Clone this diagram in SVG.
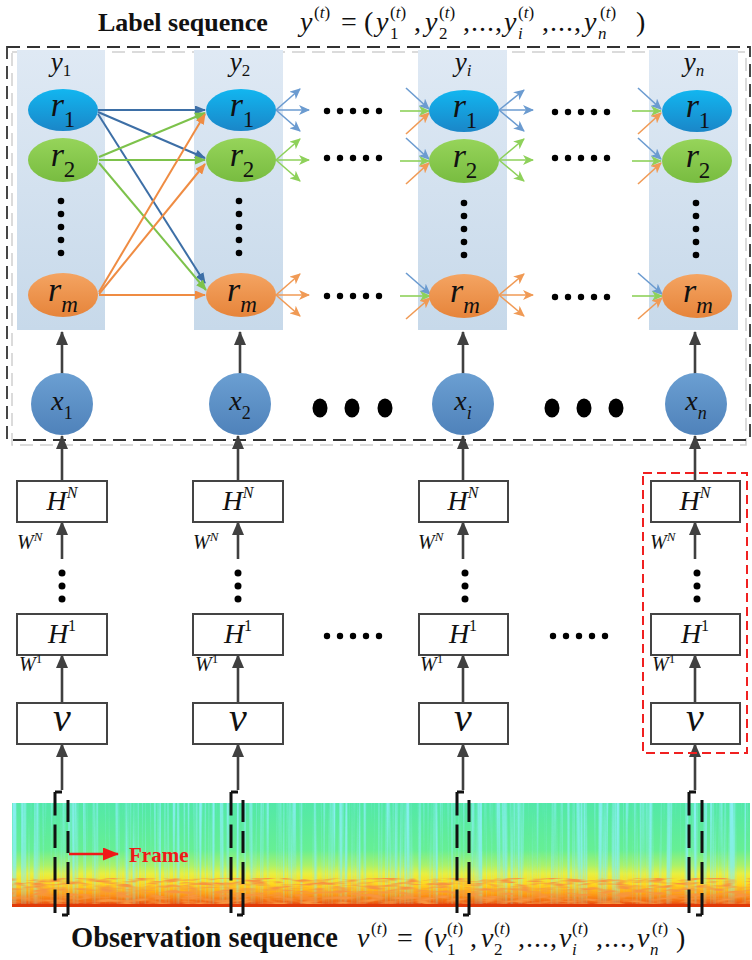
<svg xmlns="http://www.w3.org/2000/svg" width="752" height="960" viewBox="0 0 752 960">
<style>
.ttl{font-family:"Liberation Serif","DejaVu Serif",serif;font-weight:bold;fill:#111}
.m{font-family:"Liberation Serif","DejaVu Serif",serif;font-style:italic;fill:#111}
.n{font-style:normal}
.box{fill:#fff;stroke:#444;stroke-width:2}
.col{fill:url(#colbg)}
.dk{stroke:#404040;stroke-width:2.6;fill:none;marker-end:url(#mDark)}
.bl{stroke:#3d6fa6;stroke-width:2;marker-end:url(#mBlue)}
.gr{stroke:#7dc24b;stroke-width:2;marker-end:url(#mGreen)}
.or{stroke:#ef8c43;stroke-width:2;marker-end:url(#mOrange)}
.fb{stroke:#6b9bd0;stroke-width:1.6;marker-end:url(#fBlue)}
.fg{stroke:#8ed15a;stroke-width:1.6;marker-end:url(#fGreen)}
.fo{stroke:#f09a55;stroke-width:1.6;marker-end:url(#fOrange)}
.dot{fill:#000}
.br{stroke:#111;stroke-width:3;fill:none}
.bl1{stroke-dasharray:23.5 9}
.bl2{stroke-dasharray:22 9}
</style>
<defs>
<linearGradient id="colbg" x1="0" y1="0" x2="0" y2="1"><stop offset="0" stop-color="#dfe9f4"/><stop offset="1" stop-color="#c7d9ea"/></linearGradient>
<linearGradient id="gB" x1="0" y1="0" x2="0" y2="1"><stop offset="0" stop-color="#12b6f0"/><stop offset="1" stop-color="#1a86c8"/></linearGradient>
<linearGradient id="gG" x1="0" y1="0" x2="0" y2="1"><stop offset="0" stop-color="#96d45a"/><stop offset="1" stop-color="#78bc40"/></linearGradient>
<linearGradient id="gO" x1="0" y1="0" x2="0" y2="1"><stop offset="0" stop-color="#f4a462"/><stop offset="1" stop-color="#e6843a"/></linearGradient>
<linearGradient id="gX" x1="0" y1="0" x2="0" y2="1"><stop offset="0" stop-color="#6b9fd2"/><stop offset="1" stop-color="#4f82ba"/></linearGradient>
<linearGradient id="spec" x1="0" y1="0" x2="0" y2="1">
<stop offset="0" stop-color="#52e8a8"/><stop offset="0.45" stop-color="#66ef94"/><stop offset="0.6" stop-color="#aaf26a"/><stop offset="0.68" stop-color="#e8f040"/><stop offset="0.78" stop-color="#ffd81e"/><stop offset="0.87" stop-color="#ffa014"/><stop offset="0.95" stop-color="#f26612"/><stop offset="1" stop-color="#d83008"/></linearGradient>
<linearGradient id="fadeTop" x1="0" y1="0" x2="0" y2="1"><stop offset="0" stop-color="#fff" stop-opacity="1"/><stop offset="0.6" stop-color="#fff" stop-opacity="0.8"/><stop offset="1" stop-color="#fff" stop-opacity="0.2"/></linearGradient>
<mask id="mTop"><rect x="12" y="803" width="738" height="104" fill="url(#fadeTop)"/></mask>
<filter id="streak" x="0" y="0" width="100%" height="100%">
<feTurbulence type="fractalNoise" baseFrequency="0.3 0.004" numOctaves="2" seed="4"/>
<feColorMatrix type="matrix" values="0 0 0 0 0.25  0 0 0 0 0.86  0 0 0 0 0.88  3.2 0 0 0 -1.4"/>
</filter>
<filter id="blot" x="0" y="0" width="100%" height="100%">
<feTurbulence type="fractalNoise" baseFrequency="0.06 0.35" numOctaves="2" seed="9"/>
<feColorMatrix type="matrix" values="0 0 0 0 0.93  0 0 0 0 0.3  0 0 0 0 0.05  3 0 0 0 -1.2"/>
</filter>
<marker id="mDark" viewBox="0 0 14 12" markerWidth="14" markerHeight="12" refX="13" refY="6" orient="auto" markerUnits="userSpaceOnUse"><path d="M0,0 L14,6 L0,12 z" fill="#404040"/></marker>
<marker id="mBlue" viewBox="0 0 11 9" markerWidth="11" markerHeight="9" refX="10" refY="4.5" orient="auto" markerUnits="userSpaceOnUse"><path d="M0,0 L11,4.5 L0,9 z" fill="#3d6fa6"/></marker>
<marker id="mGreen" viewBox="0 0 11 9" markerWidth="11" markerHeight="9" refX="10" refY="4.5" orient="auto" markerUnits="userSpaceOnUse"><path d="M0,0 L11,4.5 L0,9 z" fill="#7dc24b"/></marker>
<marker id="mOrange" viewBox="0 0 11 9" markerWidth="11" markerHeight="9" refX="10" refY="4.5" orient="auto" markerUnits="userSpaceOnUse"><path d="M0,0 L11,4.5 L0,9 z" fill="#ef8c43"/></marker>
<marker id="fBlue" viewBox="0 0 11 10" markerWidth="11" markerHeight="10" refX="10" refY="5" orient="auto" markerUnits="userSpaceOnUse"><path d="M0,0 L11,5 L0,10 L3,5 z" fill="#6b9bd0"/></marker>
<marker id="fGreen" viewBox="0 0 11 10" markerWidth="11" markerHeight="10" refX="10" refY="5" orient="auto" markerUnits="userSpaceOnUse"><path d="M0,0 L11,5 L0,10 L3,5 z" fill="#8ed15a"/></marker>
<marker id="fOrange" viewBox="0 0 11 10" markerWidth="11" markerHeight="10" refX="10" refY="5" orient="auto" markerUnits="userSpaceOnUse"><path d="M0,0 L11,5 L0,10 L3,5 z" fill="#f09a55"/></marker>
<marker id="mRed" viewBox="0 0 16 13" markerWidth="16" markerHeight="13" refX="15" refY="6.5" orient="auto" markerUnits="userSpaceOnUse"><path d="M0,0 L16,6.5 L0,13 z" fill="#f01818"/></marker>
</defs>

<rect width="752" height="960" fill="#fff"/>

<!-- Title -->
<g id="title">
<text class="ttl" x="98" y="31" font-size="26">Label sequence</text>
<text class="m" font-size="28">
<tspan x="300" y="31">y</tspan><tspan x="314" y="18" font-size="17"><tspan class="n">(</tspan>t<tspan class="n">)</tspan></tspan>
<tspan class="n" x="341" y="31">=</tspan><tspan class="n" x="364" y="31">(</tspan>
<tspan x="376" y="31">y</tspan><tspan class="n" x="390" y="39" font-size="17">1</tspan><tspan x="390" y="18" font-size="17"><tspan class="n">(</tspan>t<tspan class="n">)</tspan></tspan>
<tspan class="n" x="414" y="31">,</tspan>
<tspan x="425" y="31">y</tspan><tspan class="n" x="439" y="39" font-size="17">2</tspan><tspan x="439" y="18" font-size="17"><tspan class="n">(</tspan>t<tspan class="n">)</tspan></tspan>
<tspan class="n" x="463" y="31" letter-spacing="1">,...,</tspan>
<tspan x="504" y="31">y</tspan><tspan x="518" y="39" font-size="17">i</tspan><tspan x="518" y="18" font-size="17"><tspan class="n">(</tspan>t<tspan class="n">)</tspan></tspan>
<tspan class="n" x="542" y="31" letter-spacing="1">,...,</tspan>
<tspan x="584" y="31">y</tspan><tspan x="598" y="39" font-size="17">n</tspan><tspan x="600" y="18" font-size="17"><tspan class="n">(</tspan>t<tspan class="n">)</tspan></tspan>
<tspan class="n" x="636" y="31">)</tspan>
</text>
</g>

<!-- outer dashed boxes -->
<g id="crf-frame">
<rect x="12" y="52" width="734" height="393" fill="none" stroke="#cfcfcf" stroke-width="1.5" stroke-dasharray="13 7"/>
<rect x="7" y="47" width="743" height="393" fill="none" stroke="#333" stroke-width="1.8" stroke-dasharray="13 7"/>
</g>

<!-- label columns -->
<g id="col-y1">
<rect class="col" x="17" y="50" width="88" height="280"/>
<text class="m" x="61" y="71" font-size="27" text-anchor="middle">y<tspan class="n" font-size="17" dy="5">1</tspan></text>
</g>
<g id="col-y2">
<rect class="col" x="194" y="50" width="89" height="280"/>
<text class="m" x="240" y="71" font-size="27" text-anchor="middle">y<tspan class="n" font-size="17" dy="5">2</tspan></text>
</g>
<g id="col-yi">
<rect class="col" x="418" y="50" width="89" height="280"/>
<text class="m" x="463" y="71" font-size="27" text-anchor="middle">y<tspan font-size="17" dy="5">i</tspan></text>
</g>
<g id="col-yn">
<rect class="col" x="649" y="50" width="89" height="280"/>
<text class="m" x="694" y="71" font-size="27" text-anchor="middle">y<tspan font-size="17" dy="5">n</tspan></text>
</g>

<!-- spectrogram -->
<g id="spectrogram">
<rect x="12" y="803" width="738" height="104" fill="url(#spec)"/>
<rect x="12" y="803" width="738" height="104" filter="url(#streak)" mask="url(#mTop)"/>
<rect x="12" y="878" width="738" height="29" filter="url(#blot)"/>
<rect x="12" y="904" width="738" height="3" fill="#e03a08"/>
</g>

<!-- connectors -->
<g id="connectors">
<line class="bl" x1="98" y1="110" x2="205" y2="110"/>
<line class="bl" x1="98" y1="112" x2="205" y2="158"/>
<line class="bl" x1="98" y1="114" x2="205" y2="283"/>
<line class="gr" x1="99" y1="157" x2="205" y2="113"/>
<line class="gr" x1="99" y1="160" x2="205" y2="160"/>
<line class="gr" x1="99" y1="163" x2="206" y2="290"/>
<line class="or" x1="99" y1="292" x2="205" y2="114"/>
<line class="or" x1="99" y1="294" x2="205" y2="164"/>
<line class="or" x1="99" y1="295" x2="205" y2="295"/>

<line class="fb" x1="276" y1="110" x2="300" y2="89"/><line class="fb" x1="276" y1="110" x2="309" y2="110"/><line class="fb" x1="276" y1="110" x2="300" y2="131"/>
<line class="fg" x1="276" y1="160" x2="300" y2="139"/><line class="fg" x1="276" y1="160" x2="309" y2="160"/><line class="fg" x1="276" y1="160" x2="300" y2="181"/>
<line class="fo" x1="276" y1="295" x2="300" y2="274"/><line class="fo" x1="276" y1="295" x2="309" y2="295"/><line class="fo" x1="276" y1="295" x2="300" y2="316"/>
<line class="fb" x1="499" y1="110" x2="524" y2="90"/><line class="fb" x1="499" y1="110" x2="533" y2="110"/><line class="fb" x1="499" y1="110" x2="524" y2="131"/>
<line class="fg" x1="499" y1="160" x2="524" y2="139"/><line class="fg" x1="499" y1="160" x2="533" y2="160"/><line class="fg" x1="499" y1="160" x2="524" y2="181"/>
<line class="fo" x1="499" y1="295" x2="524" y2="274"/><line class="fo" x1="499" y1="295" x2="533" y2="295"/><line class="fo" x1="499" y1="295" x2="524" y2="316"/>
<line class="fb" x1="406" y1="88" x2="429" y2="109"/><line class="fg" x1="400" y1="111" x2="429" y2="111"/><line class="fo" x1="406" y1="134" x2="429" y2="113"/>
<line class="fb" x1="406" y1="138" x2="429" y2="159"/><line class="fg" x1="400" y1="161" x2="429" y2="161"/><line class="fo" x1="406" y1="184" x2="429" y2="163"/>
<line class="fb" x1="406" y1="273" x2="430" y2="294"/><line class="fg" x1="400" y1="296" x2="430" y2="296"/><line class="fo" x1="406" y1="319" x2="430" y2="298"/>
<line class="fb" x1="638" y1="88" x2="661" y2="109"/><line class="fg" x1="632" y1="111" x2="661" y2="111"/><line class="fo" x1="638" y1="134" x2="661" y2="113"/>
<line class="fb" x1="638" y1="138" x2="661" y2="159"/><line class="fg" x1="632" y1="161" x2="661" y2="161"/><line class="fo" x1="638" y1="184" x2="661" y2="163"/>
<line class="fb" x1="638" y1="273" x2="662" y2="294"/><line class="fg" x1="632" y1="296" x2="662" y2="296"/><line class="fo" x1="638" y1="319" x2="662" y2="298"/>

<line class="dk" x1="62" y1="374" x2="62" y2="332"/>
<line class="dk" x1="240" y1="374" x2="240" y2="332"/>
<line class="dk" x1="463" y1="374" x2="463" y2="332"/>
<line class="dk" x1="695" y1="374" x2="695" y2="332"/>

<line class="dk" x1="62" y1="481" x2="62" y2="436"/>
<line class="dk" x1="238" y1="481" x2="238" y2="436"/>
<line class="dk" x1="463" y1="481" x2="463" y2="436"/>
<line class="dk" x1="695" y1="481" x2="695" y2="436"/>

<line class="dk" x1="62" y1="559" x2="62" y2="522"/>
<line class="dk" x1="238" y1="559" x2="238" y2="522"/>
<line class="dk" x1="463" y1="559" x2="463" y2="522"/>
<line class="dk" x1="695" y1="559" x2="695" y2="522"/>

<line class="dk" x1="62" y1="703" x2="62" y2="655"/>
<line class="dk" x1="238" y1="703" x2="238" y2="655"/>
<line class="dk" x1="463" y1="703" x2="463" y2="655"/>
<line class="dk" x1="695" y1="703" x2="695" y2="655"/>

<line class="dk" x1="62" y1="790" x2="62" y2="744"/>
<line class="dk" x1="238" y1="790" x2="238" y2="744"/>
<line class="dk" x1="463" y1="790" x2="463" y2="744"/>
<line class="dk" x1="695" y1="790" x2="695" y2="744"/>

<line x1="69" y1="854" x2="118" y2="854" stroke="#f01818" stroke-width="2.6" marker-end="url(#mRed)"/>
</g>

<!-- state nodes -->
<g id="y1-r1"><ellipse cx="63" cy="110" rx="35" ry="21" fill="url(#gB)"/><text class="m" x="63" y="116" font-size="34" text-anchor="middle">r<tspan class="n" font-size="23" dy="11">1</tspan></text></g>
<g id="y1-r2"><ellipse cx="63" cy="160" rx="35" ry="22" fill="url(#gG)"/><text class="m" x="63" y="166" font-size="34" text-anchor="middle">r<tspan class="n" font-size="23" dy="11">2</tspan></text></g>
<g id="y1-rm"><ellipse cx="63" cy="295" rx="35" ry="22" fill="url(#gO)"/><text class="m" x="63" y="301" font-size="34" text-anchor="middle">r<tspan font-size="23" dy="11">m</tspan></text></g>

<g id="y2-r1"><ellipse cx="241" cy="110" rx="35" ry="21" fill="url(#gB)"/><text class="m" x="242" y="116" font-size="34" text-anchor="middle">r<tspan class="n" font-size="23" dy="11">1</tspan></text></g>
<g id="y2-r2"><ellipse cx="241" cy="160" rx="35" ry="22" fill="url(#gG)"/><text class="m" x="242" y="166" font-size="34" text-anchor="middle">r<tspan class="n" font-size="23" dy="11">2</tspan></text></g>
<g id="y2-rm"><ellipse cx="241" cy="295" rx="35" ry="22" fill="url(#gO)"/><text class="m" x="242" y="301" font-size="34" text-anchor="middle">r<tspan font-size="23" dy="11">m</tspan></text></g>

<g id="yi-r1"><ellipse cx="464" cy="111" rx="35" ry="21" fill="url(#gB)"/><text class="m" x="465" y="117" font-size="34" text-anchor="middle">r<tspan class="n" font-size="23" dy="11">1</tspan></text></g>
<g id="yi-r2"><ellipse cx="464" cy="161" rx="35" ry="22" fill="url(#gG)"/><text class="m" x="465" y="167" font-size="34" text-anchor="middle">r<tspan class="n" font-size="23" dy="11">2</tspan></text></g>
<g id="yi-rm"><ellipse cx="464" cy="296" rx="35" ry="22" fill="url(#gO)"/><text class="m" x="465" y="302" font-size="34" text-anchor="middle">r<tspan font-size="23" dy="11">m</tspan></text></g>

<g id="yn-r1"><ellipse cx="697" cy="111" rx="35" ry="21" fill="url(#gB)"/><text class="m" x="698" y="117" font-size="34" text-anchor="middle">r<tspan class="n" font-size="23" dy="11">1</tspan></text></g>
<g id="yn-r2"><ellipse cx="697" cy="161" rx="35" ry="22" fill="url(#gG)"/><text class="m" x="698" y="167" font-size="34" text-anchor="middle">r<tspan class="n" font-size="23" dy="11">2</tspan></text></g>
<g id="yn-rm"><ellipse cx="697" cy="296" rx="35" ry="22" fill="url(#gO)"/><text class="m" x="698" y="302" font-size="34" text-anchor="middle">r<tspan font-size="23" dy="11">m</tspan></text></g>

<!-- ellipsis dots -->
<g id="dots">
<g class="dot">
<circle cx="61" cy="201" r="3.3"/><circle cx="61" cy="214" r="3.3"/><circle cx="61" cy="227" r="3.3"/><circle cx="61" cy="240" r="3.3"/><circle cx="61" cy="253" r="3.3"/>
<circle cx="239" cy="201" r="3.3"/><circle cx="239" cy="214" r="3.3"/><circle cx="239" cy="227" r="3.3"/><circle cx="239" cy="240" r="3.3"/><circle cx="239" cy="253" r="3.3"/>
<circle cx="464" cy="203" r="3.3"/><circle cx="464" cy="216" r="3.3"/><circle cx="464" cy="229" r="3.3"/><circle cx="464" cy="242" r="3.3"/><circle cx="464" cy="255" r="3.3"/>
<circle cx="696" cy="203" r="3.3"/><circle cx="696" cy="216" r="3.3"/><circle cx="696" cy="229" r="3.3"/><circle cx="696" cy="242" r="3.3"/><circle cx="696" cy="255" r="3.3"/>
</g>
<g class="dot">
<circle cx="327" cy="111" r="3.2"/><circle cx="340" cy="111" r="3.2"/><circle cx="353" cy="111" r="3.2"/><circle cx="366" cy="111" r="3.2"/><circle cx="379" cy="111" r="3.2"/>
<circle cx="327" cy="158" r="3.2"/><circle cx="340" cy="158" r="3.2"/><circle cx="353" cy="158" r="3.2"/><circle cx="366" cy="158" r="3.2"/><circle cx="379" cy="158" r="3.2"/>
<circle cx="327" cy="296" r="3.2"/><circle cx="340" cy="296" r="3.2"/><circle cx="353" cy="296" r="3.2"/><circle cx="366" cy="296" r="3.2"/><circle cx="379" cy="296" r="3.2"/>
<circle cx="555" cy="112" r="3.2"/><circle cx="568" cy="112" r="3.2"/><circle cx="581" cy="112" r="3.2"/><circle cx="594" cy="112" r="3.2"/><circle cx="607" cy="112" r="3.2"/>
<circle cx="555" cy="158" r="3.2"/><circle cx="568" cy="158" r="3.2"/><circle cx="581" cy="158" r="3.2"/><circle cx="594" cy="158" r="3.2"/><circle cx="607" cy="158" r="3.2"/>
<circle cx="555" cy="297" r="3.2"/><circle cx="568" cy="297" r="3.2"/><circle cx="581" cy="297" r="3.2"/><circle cx="594" cy="297" r="3.2"/><circle cx="607" cy="297" r="3.2"/>
</g>
<g class="dot">
<ellipse cx="320" cy="408" rx="7.5" ry="9.5"/><ellipse cx="352" cy="408" rx="7.5" ry="9.5"/><ellipse cx="385" cy="408" rx="7.5" ry="9.5"/>
<ellipse cx="552" cy="408" rx="7.5" ry="9.5"/><ellipse cx="584" cy="408" rx="7.5" ry="9.5"/><ellipse cx="616" cy="408" rx="7.5" ry="9.5"/>
</g>
<g class="dot">
<circle cx="62" cy="573" r="3.5"/><circle cx="62" cy="586" r="3.5"/><circle cx="62" cy="599" r="3.5"/>
<circle cx="238" cy="573" r="3.5"/><circle cx="238" cy="586" r="3.5"/><circle cx="238" cy="599" r="3.5"/>
<circle cx="465" cy="573" r="3.5"/><circle cx="465" cy="586" r="3.5"/><circle cx="465" cy="599" r="3.5"/>
<circle cx="697" cy="573" r="3.5"/><circle cx="697" cy="586" r="3.5"/><circle cx="697" cy="599" r="3.5"/>
<circle cx="327" cy="636" r="3.2"/><circle cx="340" cy="636" r="3.2"/><circle cx="353" cy="636" r="3.2"/><circle cx="366" cy="636" r="3.2"/><circle cx="379" cy="636" r="3.2"/>
<circle cx="553" cy="636" r="3.2"/><circle cx="566" cy="636" r="3.2"/><circle cx="579" cy="636" r="3.2"/><circle cx="592" cy="636" r="3.2"/><circle cx="605" cy="636" r="3.2"/>
</g>
</g>

<!-- observation nodes x -->
<g id="x1"><ellipse cx="62" cy="404" rx="31" ry="31" fill="url(#gX)"/><text class="m" x="62" y="410" font-size="28" text-anchor="middle">x<tspan class="n" font-size="18" dy="9">1</tspan></text></g>
<g id="x2"><ellipse cx="240" cy="404" rx="31" ry="31" fill="url(#gX)"/><text class="m" x="240" y="410" font-size="28" text-anchor="middle">x<tspan class="n" font-size="18" dy="9">2</tspan></text></g>
<g id="xi"><ellipse cx="463" cy="404" rx="31" ry="31" fill="url(#gX)"/><text class="m" x="463" y="410" font-size="28" text-anchor="middle">x<tspan font-size="18" dy="9">i</tspan></text></g>
<g id="xn"><ellipse cx="696" cy="404" rx="31" ry="31" fill="url(#gX)"/><text class="m" x="696" y="410" font-size="28" text-anchor="middle">x<tspan font-size="18" dy="9">n</tspan></text></g>

<!-- network stacks -->
<g id="net1">
<rect class="box" x="17" y="481" width="90" height="41"/><text class="m" x="62" y="510" font-size="28" text-anchor="middle">H<tspan font-size="16" dy="-12">N</tspan></text>
<text class="m" x="17" y="549" font-size="20">W<tspan font-size="13" dy="-8">N</tspan></text>
<rect class="box" x="17" y="614" width="90" height="41"/><text class="m" x="62" y="643" font-size="28" text-anchor="middle">H<tspan class="n" font-size="16" dy="-12">1</tspan></text>
<text class="m" x="19" y="671" font-size="20">W<tspan class="n" font-size="13" dy="-8">1</tspan></text>
<rect class="box" x="17" y="703" width="90" height="41"/><text class="m" x="62" y="731" font-size="40" text-anchor="middle">v</text>
</g>
<g id="net2">
<rect class="box" x="193" y="481" width="90" height="41"/><text class="m" x="238" y="510" font-size="28" text-anchor="middle">H<tspan font-size="16" dy="-12">N</tspan></text>
<text class="m" x="193" y="549" font-size="20">W<tspan font-size="13" dy="-8">N</tspan></text>
<rect class="box" x="193" y="614" width="90" height="41"/><text class="m" x="238" y="643" font-size="28" text-anchor="middle">H<tspan class="n" font-size="16" dy="-12">1</tspan></text>
<text class="m" x="195" y="671" font-size="20">W<tspan class="n" font-size="13" dy="-8">1</tspan></text>
<rect class="box" x="193" y="703" width="90" height="41"/><text class="m" x="238" y="731" font-size="40" text-anchor="middle">v</text>
</g>
<g id="neti">
<rect class="box" x="419" y="481" width="89" height="41"/><text class="m" x="463" y="510" font-size="28" text-anchor="middle">H<tspan font-size="16" dy="-12">N</tspan></text>
<text class="m" x="418" y="549" font-size="20">W<tspan font-size="13" dy="-8">N</tspan></text>
<rect class="box" x="419" y="614" width="89" height="41"/><text class="m" x="463" y="643" font-size="28" text-anchor="middle">H<tspan class="n" font-size="16" dy="-12">1</tspan></text>
<text class="m" x="420" y="671" font-size="20">W<tspan class="n" font-size="13" dy="-8">1</tspan></text>
<rect class="box" x="419" y="703" width="89" height="41"/><text class="m" x="463" y="731" font-size="40" text-anchor="middle">v</text>
</g>
<g id="netn">
<rect class="box" x="651" y="481" width="89" height="41"/><text class="m" x="695" y="510" font-size="28" text-anchor="middle">H<tspan font-size="16" dy="-12">N</tspan></text>
<text class="m" x="650" y="549" font-size="20">W<tspan font-size="13" dy="-8">N</tspan></text>
<rect class="box" x="651" y="614" width="89" height="41"/><text class="m" x="695" y="643" font-size="28" text-anchor="middle">H<tspan class="n" font-size="16" dy="-12">1</tspan></text>
<text class="m" x="652" y="671" font-size="20">W<tspan class="n" font-size="13" dy="-8">1</tspan></text>
<rect class="box" x="651" y="703" width="89" height="41"/><text class="m" x="695" y="731" font-size="40" text-anchor="middle">v</text>
<rect x="643" y="473" width="104" height="280" fill="none" stroke="#f02020" stroke-width="2" stroke-dasharray="9 5"/>
</g>

<!-- frame brackets -->
<g id="frames">
<path class="br" d="M62,792 H55"/><path class="br bl1" d="M55,792 V913"/><path class="br bl2" d="M68,800 V915"/><path class="br" d="M62,915 H68"/>
<path class="br" d="M238,792 H231"/><path class="br bl1" d="M231,792 V913"/><path class="br bl2" d="M243,800 V915"/><path class="br" d="M237,915 H243"/>
<path class="br" d="M464,792 H457"/><path class="br bl1" d="M457,792 V913"/><path class="br bl2" d="M469,800 V915"/><path class="br" d="M463,915 H469"/>
<path class="br" d="M696,792 H689"/><path class="br bl1" d="M689,792 V913"/><path class="br bl2" d="M702,800 V915"/><path class="br" d="M696,915 H702"/>
</g>
<text class="ttl" x="129" y="862" font-size="21" style="fill:#f01818">Frame</text>

<!-- bottom caption -->
<g id="caption">
<text class="ttl" x="71" y="947" font-size="28.5">Observation sequence</text>
<text class="m" font-size="28">
<tspan x="357" y="947">v</tspan><tspan x="371" y="934" font-size="17"><tspan class="n">(</tspan>t<tspan class="n">)</tspan></tspan>
<tspan class="n" x="397" y="947">=</tspan><tspan class="n" x="424" y="947">(</tspan>
<tspan x="434" y="947">v</tspan><tspan class="n" x="447" y="955" font-size="17">1</tspan><tspan x="447" y="934" font-size="17"><tspan class="n">(</tspan>t<tspan class="n">)</tspan></tspan>
<tspan class="n" x="470" y="947">,</tspan>
<tspan x="481" y="947">v</tspan><tspan class="n" x="494" y="955" font-size="17">2</tspan><tspan x="494" y="934" font-size="17"><tspan class="n">(</tspan>t<tspan class="n">)</tspan></tspan>
<tspan class="n" x="518" y="947" letter-spacing="1">,...,</tspan>
<tspan x="559" y="947">v</tspan><tspan x="572" y="955" font-size="17">i</tspan><tspan x="572" y="934" font-size="17"><tspan class="n">(</tspan>t<tspan class="n">)</tspan></tspan>
<tspan class="n" x="596" y="947" letter-spacing="1">,...,</tspan>
<tspan x="637" y="947">v</tspan><tspan x="650" y="955" font-size="17">n</tspan><tspan x="652" y="934" font-size="17"><tspan class="n">(</tspan>t<tspan class="n">)</tspan></tspan>
<tspan class="n" x="676" y="947">)</tspan>
</text>
</g>
</svg>
